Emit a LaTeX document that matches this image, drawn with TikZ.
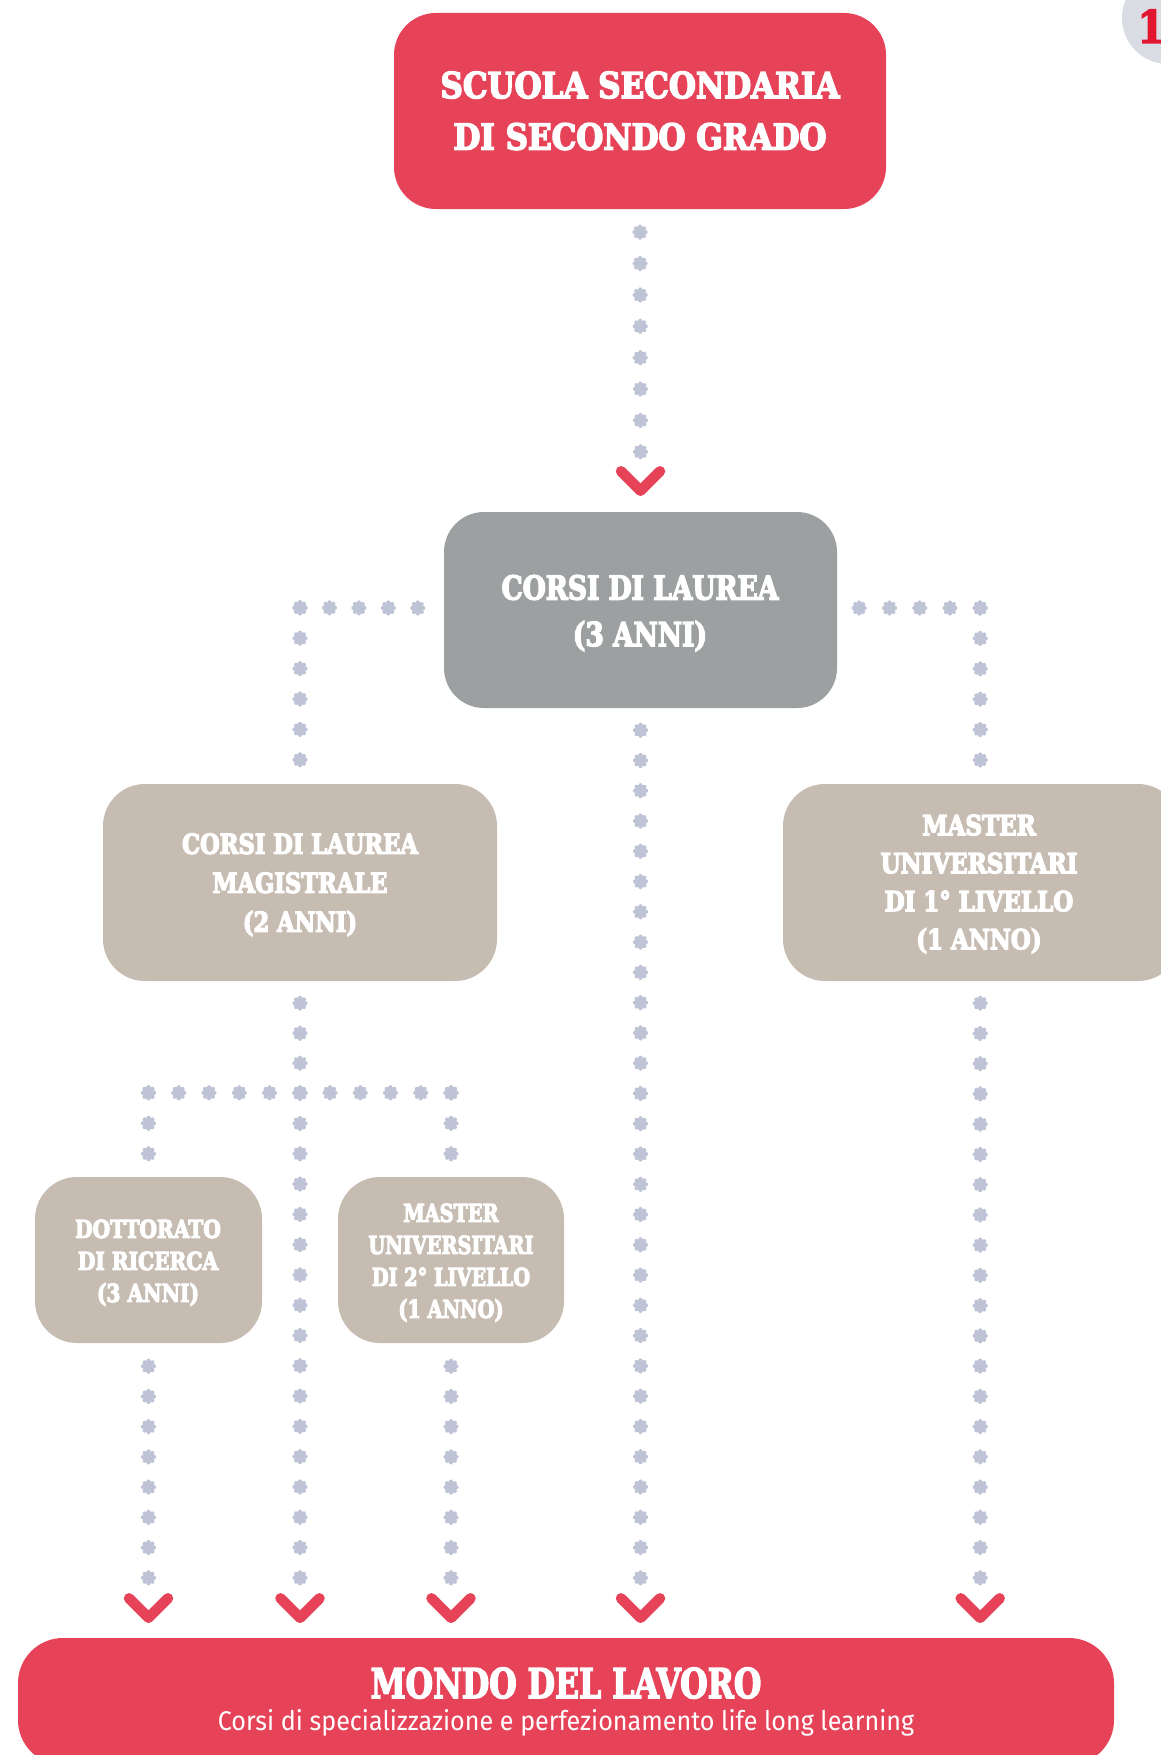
\documentclass[tikz,border=0pt]{standalone}
\usepackage{fontspec}
\usepackage{graphicx}
\usetikzlibrary{calc}
\newfontfamily\slab{DejaVu Serif Condensed}
\newfontfamily\subsans[FakeStretch=0.93]{Fira Sans}
\newcommand\fTop{\slab\bfseries\fontsize{35.7}{51.5}\selectfont}
\newcommand\fGray{\slab\bfseries\fontsize{33}{46.5}\selectfont}
\newcommand\fMag{\slab\bfseries\fontsize{27.5}{39}\selectfont}
\newcommand\fMst{\slab\bfseries\fontsize{27.5}{38}\selectfont}
\newcommand\fLow{\slab\bfseries\fontsize{24.7}{32}\selectfont}
\newcommand\fTitle{\slab\bfseries\fontsize{41}{45}\selectfont}
\newcommand\fSub{\subsans\fontsize{27}{30}\selectfont}
\newcommand\fPage{\slab\bfseries\fontsize{45}{50}\selectfont}
\newcommand\heavyon[1]{\special{pdf:literal direct #1 w 2 Tr}}
\newcommand\btxt[3][1.3]{\heavyon{#1}\scalebox{#2}[1]{\begin{tabular}{@{}c@{}}#3\end{tabular}}}
\definecolor{redbox}{RGB}{230,66,88}
\definecolor{graybox}{RGB}{157,160,161}
\definecolor{beige}{RGB}{198,188,178}
\definecolor{dotc}{RGB}{190,195,213}
\definecolor{circ}{RGB}{218,220,228}
\definecolor{numred}{RGB}{226,22,48}
\newcommand\dotrun[3]{\foreach \k in {0,...,#3}{\pic at ($(#1)!{\k/#3}!(#2)$) {flower};}}
\tikzset{
  box/.style={rounded corners=42pt, inner sep=0pt},
  lbl/.style={inner sep=0pt, text=white},
  flower/.pic={\fill[dotc] (0,0) circle (6pt);
    \foreach \a in {0,45,...,315}{\fill[dotc] (\a:5.6pt) circle (2pt);}},
  chev/.pic={\draw[redbox, line width=10.5pt, line cap=round, line join=round]
    (-19.5,-19.5) -- (0,0) -- (19.5,-19.5);}
}
\begin{document}
\begin{tikzpicture}[x=1pt,y=-1pt]
\path[use as bounding box] (0,0) rectangle (1161,1755);
\clip (0,0) rectangle (1161,1755);
\fill[white] (0,0) rectangle (1161,1755);

% page number circle
\fill[circ] (1168,18) circle (46pt);
\node[anchor=base west, inner sep=0pt, font=\fPage, text=numred] (pg) at (1137,43) {\heavyon{1.2}11};

% boxes
\node[box, fill=redbox, minimum width=492pt, minimum height=196pt] (top) at (640,111) {};
\node[box, fill=graybox, rounded corners=40pt, minimum width=393pt, minimum height=196pt] (gray) at (640.5,610) {};
\node[box, fill=beige, minimum width=394pt, minimum height=197pt] (mag) at (300,882.5) {};
\node[box, fill=beige, minimum width=397pt, minimum height=197pt] (mst1) at (981.5,882.5) {};
\node[box, fill=beige, minimum width=227pt, minimum height=166pt] (dott) at (148.5,1260) {};
\node[box, fill=beige, minimum width=226pt, minimum height=166pt] (mst2) at (451,1260) {};
\node[box, fill=redbox, rounded corners=45pt, minimum width=1096pt, minimum height=127pt] (bot) at (566,1701.5) {};

% texts
\node[lbl, font=\fTop] (ttop) at (640,113.5) {\btxt[1.5]{0.965}{SCUOLA SECONDARIA\\DI SECONDO GRADO}};
\node[lbl, font=\fGray] (tgray) at (640,613.5) {\btxt[1.4]{0.893}{CORSI DI LAUREA\\(3 ANNI)}};
\node[lbl, font=\fMag] (tmag) at (300,885) {\btxt{0.913}{CORSI DI LAUREA\\MAGISTRALE\\(2 ANNI)}};
\node[lbl, font=\fMst] (tmst1) at (979,884.5) {\btxt{0.928}{MASTER\\UNIVERSITARI\\DI 1° LIVELLO\\(1 ANNO)}};
\node[lbl, font=\fLow] (tdott) at (148,1263.5) {\btxt[1.1]{0.909}{DOTTORATO\\DI RICERCA\\(3 ANNI)}};
\node[lbl, font=\fLow] (tmst2) at (451,1263.5) {\btxt[1.1]{0.867}{MASTER\\UNIVERSITARI\\DI 2° LIVELLO\\(1 ANNO)}};
\node[lbl, anchor=base, font=\fTitle] (bt) at (566,1698) {\heavyon{1.5}\scalebox{0.855}[1]{MONDO DEL LAVORO}};
\node[lbl, anchor=base, font=\fSub] (bs) at (566,1730) {Corsi di specializzazione e perfezionamento life long learning};

% junction coordinates
\coordinate (cL) at ($(mag.north)+(0,-176)$);
\coordinate (cR) at ($(gray.east)+(143,-2)$);
\coordinate (jC) at ($(mag.south)+(0,112)$);
\coordinate (jL) at ($(dott.north)+(0,-84)$);
\coordinate (jR) at ($(mst2.north)+(0,-84)$);

% connector: top -> gray
\dotrun{$(top.south)+(0,23)$}{$(gray.north)+(0,-60)$}{7}
\pic at ($(gray.north)+(0,-21)$) {chev};
% gray -> magistrale
\dotrun{$(gray.west)+(-26,-2)$}{cL}{4}
\dotrun{cL}{$(mag.north)+(0,-24)$}{5}
% gray -> master 1
\dotrun{$(gray.east)+(22,-2)$}{cR}{4}
\dotrun{cR}{$(cR)+(0,152)$}{5}
% gray -> mondo del lavoro
\dotrun{$(gray.south)+(0,22)$}{$(gray.south |- bot.north)+(0,-60)$}{28}
\pic at ($(gray.south |- bot.north)+(0,-20)$) {chev};
% magistrale -> branches
\dotrun{$(mag.south)+(0,22)$}{jC}{3}
\dotrun{jL}{jR}{10}
\dotrun{jL}{$(dott.north)+(0,-23)$}{2}
\dotrun{jR}{$(mst2.north)+(0,-23)$}{2}
\dotrun{jC}{$(jC |- bot.north)+(0,-60)$}{16}
\pic at ($(jC |- bot.north)+(0,-20)$) {chev};
% dottorato -> mondo
\dotrun{$(dott.south)+(0,23)$}{$(dott.south |- bot.north)+(0,-60)$}{7}
\pic at ($(dott.south |- bot.north)+(0,-20)$) {chev};
% master 2 -> mondo
\dotrun{$(mst2.south)+(0,23)$}{$(mst2.south |- bot.north)+(0,-60)$}{7}
\pic at ($(mst2.south |- bot.north)+(0,-20)$) {chev};
% master 1 -> mondo
\dotrun{$(cR |- mst1.south)+(0,22)$}{$(cR |- bot.north)+(0,-60)$}{19}
\pic at ($(cR |- bot.north)+(0,-20)$) {chev};
\end{tikzpicture}
\end{document}
